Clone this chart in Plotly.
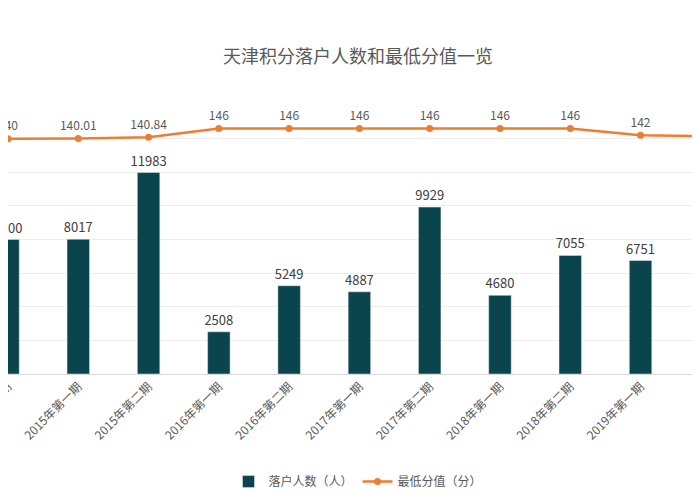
import plotly.graph_objects as go

categories = ["2014年第二期", "2015年第一期", "2015年第二期", "2016年第一期", "2016年第二期",
              "2017年第一期", "2017年第二期", "2018年第一期", "2018年第二期", "2019年第一期", "2019年第二期"]
people = [8000, 8017, 11983, 2508, 5249, 4887, 9929, 4680, 7055, 6751, 8640]
scores = [140, 140.01, 140.84, 146, 146, 146, 146, 146, 146, 142, 141.5]
score_labels = ["140", "140.01", "140.84", "146", "146", "146", "146", "146", "146", "142", "141.5"]

font = "Noto Sans CJK SC"
fig = go.Figure()
fig.add_trace(go.Bar(x=categories, y=people, name="落户人数（人）", marker_color="#0A444C",
                     width=0.32, text=[str(v) for v in people], textposition="outside",
                     textangle=0, constraintext="none",
                     textfont=dict(size=13, color="#404040"), cliponaxis=False))
fig.add_trace(go.Scatter(x=categories, y=scores, name="最低分值（分）", yaxis="y2",
                         mode="lines+markers+text", line=dict(color="#ED7D31", width=2.5),
                         marker=dict(size=7, color="#ED7D31"), text=score_labels,
                         textposition="top center", textfont=dict(size=12, color="#595959"),
                         cliponaxis=False))
fig.update_layout(
    width=700, height=500, plot_bgcolor="white", paper_bgcolor="white",
    font=dict(family=font),
    title=dict(text="天津积分落户人数和最低分值一览", x=0.5, y=0.915, xanchor="center",
               font=dict(size=18, color="#595959")),
    margin=dict(l=0, r=0, t=97, b=134, autoexpand=False),
    bargap=0.6,
    uniformtext=dict(minsize=13, mode="show"),
    xaxis=dict(range=[0, 9.96], tickangle=-45, tickfont=dict(size=12, color="#595959"),
               showline=True, linecolor="#D9D9D9", showgrid=False, automargin=False),
    yaxis=dict(range=[0, 16000], dtick=2000, showticklabels=False, gridcolor="#EDEDED",
               zeroline=False, automargin=False),
    yaxis2=dict(range=[0, 160], overlaying="y", side="right", showticklabels=False,
                showgrid=False, automargin=False),
    legend=dict(orientation="h", x=0.5, xanchor="center", y=-0.4, yanchor="middle",
                font=dict(size=12, color="#595959")),
)
fig.write_html("out.html")
